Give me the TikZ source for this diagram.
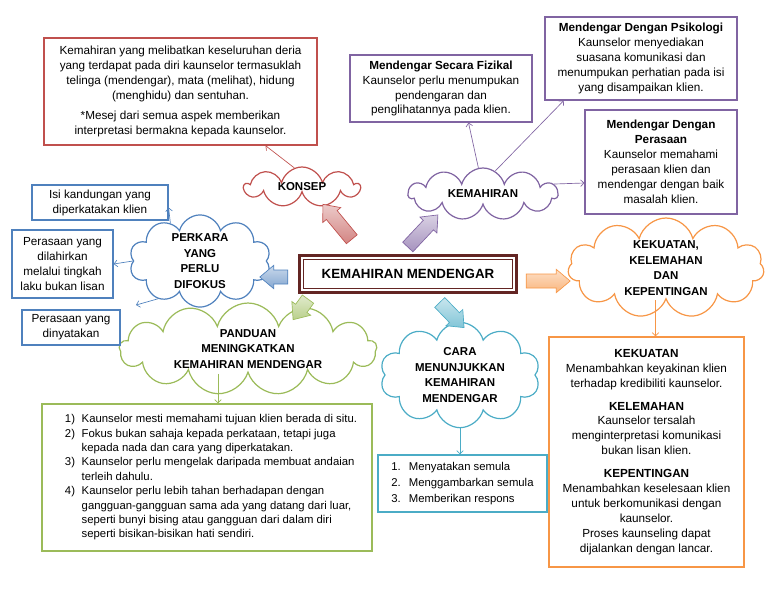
\documentclass[tikz,border=0pt]{standalone}
\usepackage{fontspec}
\setmainfont{Liberation Sans}
\usepackage{tikz}
\usetikzlibrary{shapes.symbols, shapes.arrows, arrows.meta, positioning, calc, fit}

\definecolor{konsepred}{HTML}{C0504D}
\definecolor{skillpurple}{HTML}{8064A2}
\definecolor{focusblue}{HTML}{4F81BD}
\definecolor{guidegreen}{HTML}{9BBB59}
\definecolor{showaqua}{HTML}{4BACC6}
\definecolor{strengthorange}{HTML}{F79646}
\definecolor{mainmaroon}{HTML}{632523}

\newcommand{\txtsz}{\fontsize{8.8}{11.2}\selectfont}
\newcommand{\listsz}{\fontsize{8.5}{10.8}\selectfont}
\newcommand{\cloudsz}{\fontsize{8.6}{11.6}\selectfont\bfseries}

\begin{document}
\begin{tikzpicture}[x=0.75pt, y=-0.75pt,
    infobox/.style={draw=#1, line width=0.9pt, fill=white, align=center, font=\txtsz, inner sep=2pt},
    topic/.style={cloud, cloud ignores aspect, draw=#1, line width=0.9pt, fill=white, align=center, font=\cloudsz, inner sep=0pt},
    link/.style={-{Straight Barb[length=2.5pt,width=5pt]}, line width=0.5pt},
    fatarrow/.style={single arrow, draw=#1, line width=0.5pt, top color=#1!30, bottom color=#1!70,
        single arrow head extend=3.5pt, single arrow head indent=0pt, single arrow tip angle=80, inner sep=5pt}]
    \useasboundingbox (0,0) rectangle (768,594);

    % middle
    \node[draw=mainmaroon, line width=0.7pt, fill=white, minimum width=157pt, minimum height=21.5pt,
          font=\fontsize{10}{12}\selectfont\bfseries] (main) at (408,274) {KEMAHIRAN MENDENGAR};
    \node[fit=(main), inner sep=2.6pt, draw=mainmaroon, line width=2.6pt] (mainframe) {};

    % clouds
    \node[topic=konsepred, cloud puffs=9, minimum width=86pt, minimum height=30pt] (konsep) at (302,187) {KONSEP};
    \node[topic=skillpurple, cloud puffs=11, minimum width=112pt, minimum height=39pt] (kemahiran) at (483,194) {KEMAHIRAN};
    \node[topic=focusblue, cloud puffs=10, minimum width=106pt, minimum height=69pt] (perkara) at (200,261) {PERKARA\\YANG\\PERLU\\DIFOKUS};
    \node[topic=guidegreen, cloud puffs=13, minimum width=193pt, minimum height=64pt] (panduan) at (248,349) {PANDUAN\\MENINGKATKAN\\KEMAHIRAN MENDENGAR};
    \node[topic=showaqua, cloud puffs=10, minimum width=120pt, minimum height=79pt] (cara) at (460,375) {CARA\\MENUNJUKKAN\\KEMAHIRAN\\MENDENGAR};
    \node[topic=strengthorange, cloud puffs=11, minimum width=147pt, minimum height=75pt] (kekuatan) at (666,268) {KEKUATAN,\\KELEMAHAN\\DAN\\KEPENTINGAN};

    % fat arrows out of the middle
    \node[fatarrow=konsepred, minimum height=34pt, rotate=129.6] (toKonsep) at (340,225) {};
    \node[fatarrow=skillpurple, minimum height=33pt, rotate=46.8] (toKemahiran) at (420,234) {};
    \node[fatarrow=focusblue, minimum height=21pt, rotate=180] (toPerkara) at (278,277) {};
    \node[fatarrow=guidegreen, minimum height=19pt, rotate=234] (toPanduan) at (303,306) {};
    \node[fatarrow=showaqua, minimum height=26.25pt, rotate=-46] (toCara) at (449,312) {};
    \node[fatarrow=strengthorange, minimum height=33pt, rotate=0] (toKekuatan) at (544,281) {};

    % boxes
    \node[infobox=konsepred, minimum width=204.75pt, minimum height=80.25pt] (konsepbox) at (180.5,91.5)
        {Kemahiran yang melibatkan keseluruhan deria\\yang terdapat pada diri kaunselor termasuklah\\telinga (mendengar), mata (melihat), hidung\\(menghidu) dan sentuhan.\\[4pt]*Mesej dari semua aspek memberikan\\interpretasi bermakna kepada kaunselor.};
    \node[infobox=skillpurple, minimum width=136.5pt, minimum height=50.25pt] (fizikal) at (441,88.5)
        {\textbf{Mendengar Secara Fizikal}\\Kaunselor perlu menumpukan\\pendengaran dan\\penglihatannya pada klien.};
    \node[infobox=skillpurple, minimum width=144pt, minimum height=62.25pt] (psikologi) at (641,58.5)
        {\textbf{Mendengar Dengan Psikologi}\\Kaunselor menyediakan\\suasana komunikasi dan\\menumpukan perhatian pada isi\\yang disampaikan klien.};
    \node[infobox=skillpurple, minimum width=114pt, minimum height=78pt] (perasaan) at (661,162)
        {\textbf{Mendengar Dengan}\\\textbf{Perasaan}\\Kaunselor memahami\\perasaan klien dan\\mendengar dengan baik\\masalah klien.};
    \node[infobox=focusblue, minimum width=102pt, minimum height=26.25pt] (isi) at (100,202.5)
        {Isi kandungan yang\\diperkatakan klien};
    \node[infobox=focusblue, minimum width=75.75pt, minimum height=51pt] (dilahirkan) at (62.5,264)
        {Perasaan yang\\dilahirkan\\melalui tingkah\\laku bukan lisan};
    \node[infobox=focusblue, minimum width=73.5pt, minimum height=26.25pt] (dinyatakan) at (71,327.5)
        {Perasaan yang\\dinyatakan};
    \node[infobox=guidegreen, font=\listsz, minimum width=247.5pt, minimum height=110.25pt] (panduanlist) at (207,477.5)
        {\hspace*{6pt}\begin{tabular}{@{}l@{\hspace{5pt}}l@{}}
         1) & Kaunselor mesti memahami tujuan klien berada di situ.\\
         2) & Fokus bukan sahaja kepada perkataan, tetapi juga\\
            & kepada nada dan cara yang diperkatakan.\\
         3) & Kaunselor perlu mengelak daripada membuat andaian\\
            & terleih dahulu.\\
         4) & Kaunselor perlu lebih tahan berhadapan dengan\\
            & gangguan-gangguan sama ada yang datang dari luar,\\
            & seperti bunyi bising atau gangguan dari dalam diri\\
            & seperti bisikan-bisikan hati sendiri.
         \end{tabular}};
    \node[infobox=showaqua, font=\listsz, minimum width=126.75pt, minimum height=42.75pt] (caralist) at (462.5,483.5)
        {\def\arraystretch{1.12}\begin{tabular}{@{}l@{\hspace{6pt}}l@{}}
         1. & Menyatakan semula\\
         2. & Menggambarkan semula\\
         3. & Memberikan respons
         \end{tabular}};
    \node[infobox=strengthorange, minimum width=146.25pt, minimum height=172.5pt] (kekuatanbox) at (646.5,452)
        {\textbf{KEKUATAN}\\Menambahkan keyakinan klien\\terhadap kredibiliti kaunselor.\\[6pt]
         \textbf{KELEMAHAN}\\Kaunselor tersalah\\menginterpretasi komunikasi\\bukan lisan klien.\\[6pt]
         \textbf{KEPENTINGAN}\\Menambahkan keselesaan klien\\untuk berkomunikasi dengan\\kaunselor.\\Proses kaunseling dapat\\dijalankan dengan lancar.};

    % thin links
    \draw[link, konsepred] (konsep.112) -- ($(konsepbox.south west)!.81!(konsepbox.south east)$);
    \draw[link, skillpurple] (kemahiran.100) -- ($(fizikal.south)!.3!(fizikal.south east)$);
    \draw[link, skillpurple] (kemahiran.62) -- ($(psikologi.south west)!.1!(psikologi.south east)$);
    \draw[link, skillpurple] (kemahiran.8) -- ($(perasaan.west)+(0,21)$);
    \draw[link, focusblue] (perkara.128) -- ($(isi.east)+(0,5)$);
    \draw[link, focusblue] (perkara.west) -- (dilahirkan.east);
    \draw[link, focusblue, shorten >=12pt] (perkara.222) -- (dinyatakan.north east);
    \coordinate (pin) at ($(panduanlist.north)+(11,0)$);
    \draw[link, guidegreen] (panduan.south -| pin) -- (pin);
    \draw[link, showaqua] (cara.south) -- (cara.south |- caralist.north);
    \coordinate (kin) at ($(kekuatanbox.north)+(9,0)$);
    \draw[link, strengthorange] (kekuatan.south -| kin) -- (kin);
\end{tikzpicture}
\end{document}
